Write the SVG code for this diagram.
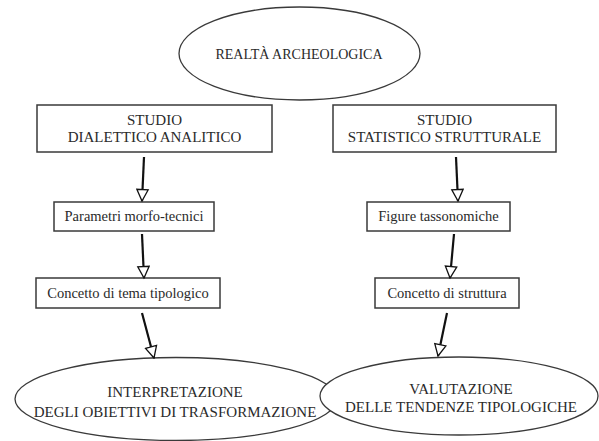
<svg xmlns="http://www.w3.org/2000/svg" width="599" height="441" viewBox="0 0 599 441">
<style>
.bg{fill:#ffffff}
.box{fill:#ffffff;stroke:#3a3a3a;stroke-width:1.5}
.ell{fill:#ffffff;stroke:#3a3a3a;stroke-width:1.3}
.t{font-family:'Liberation Serif','DejaVu Serif','Times New Roman',serif;fill:#2a2a2a;text-anchor:middle}
.caps{font-size:15px}
.low{font-size:14.5px}
.edge{stroke:#111111;stroke-width:2.2;fill:none;marker-end:url(#open)}
</style>
<defs>
<marker id="open" viewBox="0 0 14 14" markerWidth="14" markerHeight="14" refX="12.5" refY="7" orient="auto" markerUnits="userSpaceOnUse">
<path d="M1,1.3 L12.5,7 L1,12.7 Z" fill="#ffffff" stroke="#111111" stroke-width="1.3" stroke-linejoin="miter"/>
</marker>
</defs>
<rect class="bg" x="0" y="0" width="599" height="441"/>
<g id="realta">
<ellipse class="ell" cx="299.5" cy="53.5" rx="120.5" ry="46.5"/>
<text class="t" x="299" y="59" font-size="14" font-family="Liberation Serif, serif">REALTÀ ARCHEOLOGICA</text>
</g>
<g id="studio-dialettico">
<rect class="box" x="37" y="105" width="235" height="47"/>
<text class="t caps" x="154.5" y="124.5">STUDIO</text>
<text class="t caps" x="154.5" y="142">DIALETTICO ANALITICO</text>
</g>
<g id="studio-statistico">
<rect class="box" x="333" y="105" width="223" height="47"/>
<text class="t caps" x="444.5" y="124.5">STUDIO</text>
<text class="t caps" x="444.5" y="142">STATISTICO STRUTTURALE</text>
</g>
<g id="parametri">
<rect class="box" x="54" y="202" width="160" height="29"/>
<text class="t low" x="134" y="221">Parametri morfo-tecnici</text>
</g>
<g id="figure">
<rect class="box" x="367" y="202" width="143" height="29"/>
<text class="t low" x="438.5" y="221">Figure tassonomiche</text>
</g>
<g id="tema">
<rect class="box" x="36" y="278" width="184" height="30"/>
<text class="t low" x="128" y="298">Concetto di tema tipologico</text>
</g>
<g id="struttura">
<rect class="box" x="375" y="278" width="144" height="30"/>
<text class="t low" x="447" y="298">Concetto di struttura</text>
</g>
<g id="interpretazione">
<ellipse class="ell" cx="176" cy="399" rx="161" ry="41.5"/>
<text class="t caps" x="175" y="397">INTERPRETAZIONE</text>
<text class="t caps" x="175" y="416.5">DEGLI OBIETTIVI DI TRASFORMAZIONE</text>
</g>
<g id="valutazione">
<ellipse class="ell" cx="459" cy="396" rx="139" ry="39"/>
<text class="t caps" x="461" y="394">VALUTAZIONE</text>
<text class="t caps" x="461" y="411.5">DELLE TENDENZE TIPOLOGICHE</text>
</g>
<g id="connectors">
<line class="edge" x1="144" y1="157" x2="142" y2="201"/>
<line class="edge" x1="456" y1="157" x2="458" y2="201"/>
<line class="edge" x1="142" y1="234" x2="144" y2="278"/>
<line class="edge" x1="454" y1="234" x2="450" y2="278"/>
<line class="edge" x1="142" y1="313" x2="154" y2="358"/>
<line class="edge" x1="447" y1="313" x2="438" y2="356"/>
</g>
</svg>
